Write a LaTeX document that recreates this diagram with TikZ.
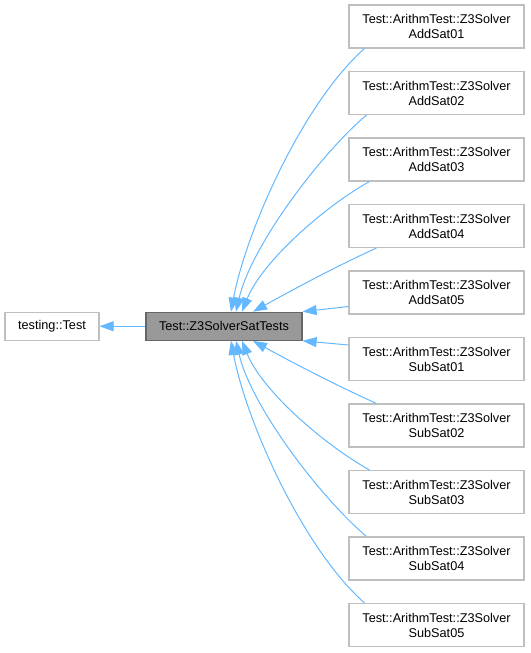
\documentclass[tikz,border=0pt]{standalone}
\usepackage{fontspec}
\setmainfont{Liberation Sans}
\usetikzlibrary{arrows.meta}
\definecolor{edgeblue}{HTML}{63B8FF}
\definecolor{boxgrey}{HTML}{BFBFBF}
\definecolor{mainfill}{HTML}{999999}
\definecolor{mainline}{HTML}{666666}
\tikzset{
	classbox/.style={draw=boxgrey, line width=1.2pt, fill=white, inner sep=0pt, minimum width=175pt, minimum height=43pt, align=center, font=\fontsize{12.7}{15}\selectfont},
	basebox/.style={draw=boxgrey, line width=1.2pt, fill=white, inner sep=0pt, minimum width=94pt, minimum height=28pt, font=\fontsize{12.7}{15}\selectfont},
	mainbox/.style={draw=mainline, line width=1.2pt, fill=mainfill, inner sep=0pt, minimum width=156pt, minimum height=28pt, font=\fontsize{12.7}{15}\selectfont},
	inherit/.style={draw=edgeblue, line width=1pt, -{Triangle[length=14pt, width=10pt]}}
}

\begin{document}
\begin{tikzpicture}[x=1pt, y=-1pt]
			%%%%% START %%%%%
			\useasboundingbox (0, 0) rectangle (530, 653);
			
			\node[basebox] (base) at (52, 326.25) {testing::Test};
			\node[mainbox] (main) at (224, 326.25) {Test::Z3SolverSatTests};
			
			\node[classbox] (add01) at (436.5, 26.5) {Test::ArithmTest::Z3Solver\\AddSat01};
			\node[classbox] (add02) at (436.5, 93) {Test::ArithmTest::Z3Solver\\AddSat02};
			\node[classbox] (add03) at (436.5, 159.5) {Test::ArithmTest::Z3Solver\\AddSat03};
			\node[classbox] (add04) at (436.5, 226) {Test::ArithmTest::Z3Solver\\AddSat04};
			\node[classbox] (add05) at (436.5, 292.5) {Test::ArithmTest::Z3Solver\\AddSat05};
			\node[classbox] (sub01) at (436.5, 359) {Test::ArithmTest::Z3Solver\\SubSat01};
			\node[classbox] (sub02) at (436.5, 425.5) {Test::ArithmTest::Z3Solver\\SubSat02};
			\node[classbox] (sub03) at (436.5, 492) {Test::ArithmTest::Z3Solver\\SubSat03};
			\node[classbox] (sub04) at (436.5, 558.5) {Test::ArithmTest::Z3Solver\\SubSat04};
			\node[classbox] (sub05) at (436.5, 625) {Test::ArithmTest::Z3Solver\\SubSat05};
			
			\draw[inherit] (main.west) -- (base.east);
			
			\draw[inherit] ([xshift=16pt]add01.south west) .. controls +(-62, 55) and +(15, -80) .. ([xshift=7pt]main.north);
			\draw[inherit] ([xshift=18pt]add02.south west) .. controls +(-47, 40) and +(15, -65) .. ([xshift=12pt]main.north);
			\draw[inherit] ([xshift=21pt]add03.south west) .. controls +(-45, 25) and +(20, -50) .. ([xshift=18pt]main.north);
			\draw[inherit] ([xshift=28pt]add04.south west) .. controls +(-40, 18) and +(40, -22) .. ([xshift=29pt]main.north);
			\draw[inherit] ([yshift=-14pt]add05.west) -- (main.north east);
			
			\draw[inherit] ([yshift=14pt]sub01.west) -- (main.south east);
			\draw[inherit] ([xshift=28pt]sub02.north west) .. controls +(-40, -18) and +(40, 22) .. ([xshift=29pt]main.south);
			\draw[inherit] ([xshift=21pt]sub03.north west) .. controls +(-45, -25) and +(20, 50) .. ([xshift=18pt]main.south);
			\draw[inherit] ([xshift=18pt]sub04.north west) .. controls +(-47, -40) and +(15, 65) .. ([xshift=12pt]main.south);
			\draw[inherit] ([xshift=16pt]sub05.north west) .. controls +(-62, -55) and +(15, 80) .. ([xshift=7pt]main.south);
			
			%%%%% END %%%%%
\end{tikzpicture}
\end{document}
